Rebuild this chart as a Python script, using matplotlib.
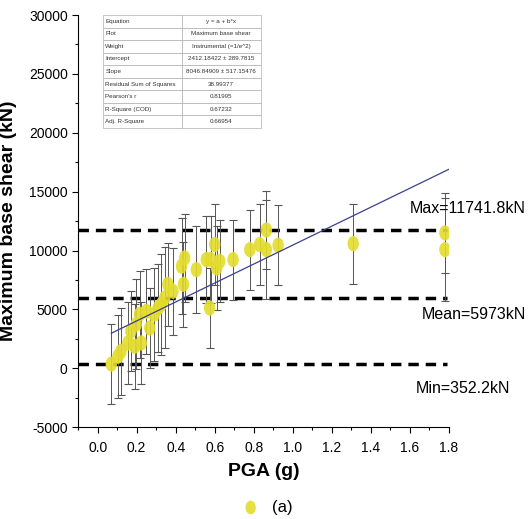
import matplotlib
matplotlib.use("Agg")
import matplotlib.pyplot as plt
from matplotlib.path import Path
from matplotlib.transforms import Affine2D
from matplotlib.ticker import MultipleLocator

plt.rcParams['font.family'] = ['Liberation Sans', 'DejaVu Sans']
plt.rcParams['axes.unicode_minus'] = False

# data
pga = [0.07, 0.104, 0.12, 0.155, 0.17, 0.19, 0.198, 0.215, 0.224, 0.25,
       0.267, 0.29, 0.31, 0.327, 0.344, 0.36, 0.386, 0.43, 0.44, 0.446,
       0.506, 0.557, 0.574, 0.58, 0.60, 0.61, 0.626, 0.694, 0.78, 0.83,
       0.865, 0.865, 0.925, 1.31, 1.78, 1.78]
shear = [352, 1020, 1440, 2150, 3140, 1870, 3740, 4590, 2150, 4840,
         3420, 4590, 5120, 5440, 5980, 7130, 6540, 8670, 7130, 9370,
         8380, 9230, 5120, 9230, 10510, 8520, 9090, 9230, 10080, 10510,
         11742, 10080, 10450, 10590, 11500, 10080]
shear_err = [3400, 3540, 3680, 3450, 3400, 3600, 3800, 3700, 3500, 3600,
             3400, 3950, 3700, 4300, 4300, 3500, 3700, 4100, 3600, 3700,
             3700, 3700, 3400, 3700, 3400, 3600, 3500, 3400, 3400, 3400,
             3300, 4200, 3400, 3400, 3400, 4400]

intercept = 2412.18422
slope = 8046.84909
fit_x = [0.07, 1.8]

ref_levels = [11741.8, 5973, 352.2]
ref_labels = ["Max=11741.8kN", "Mean=5973kN", "Min=352.2kN"]
ref_label_pos = [(1.60, 13600), (1.66, 4600), (1.63, -1700)]

table_rows = [
    ["Equation", "y = a + b*x"],
    ["Plot", "Maximum base shear"],
    ["Weight", "Instrumental (=1/e^2)"],
    ["Intercept", "2412.18422 \u00b1 289.7815"],
    ["Slope", "8046.84909 \u00b1 517.15476"],
    ["Residual Sum of Squares", "38.99377"],
    ["Pearson's r", "0.81995"],
    ["R-Square (COD)", "0.67232"],
    ["Adj. R-Square", "0.66954"],
]

fig = plt.figure(figsize=(5.28, 5.19), dpi=100)
ax = fig.add_axes([0.148, 0.177, 0.702, 0.794])

# tall ellipse marker
ellipse = Path.unit_circle().transformed(Affine2D().scale(0.75, 1.0))

ax.errorbar(pga, shear, yerr=shear_err, fmt='none', ecolor='#555555',
            elinewidth=0.7, capsize=3, capthick=0.8, zorder=2)
ax.scatter(pga, shear, marker=ellipse, s=120, color='#e3dc2c', alpha=0.9,
           edgecolors='none', zorder=3, label='(a)')

fit_y = [intercept + slope * x for x in fit_x]
ax.plot(fit_x, fit_y, color='#3b3f8f', lw=0.9, zorder=4)

for lvl, lab, pos in zip(ref_levels, ref_labels, ref_label_pos):
    ax.plot([-0.1, 1.79], [lvl, lvl], color='black', lw=2.5,
            dashes=(3, 2), zorder=1)
    ax.text(pos[0], pos[1], lab, fontsize=11.5, va='center', ha='left',
            clip_on=False)

ax.set_xlim(-0.1, 1.8)
ax.set_ylim(-5000, 30000)
ax.xaxis.set_minor_locator(MultipleLocator(0.1))
ax.yaxis.set_major_locator(MultipleLocator(5000))
ax.yaxis.set_minor_locator(MultipleLocator(2500))
ax.set_xticks([i * 0.2 for i in range(10)])
ax.set_xticklabels([f"{i * 0.2:.1f}" for i in range(10)])
ax.tick_params(axis='both', which='major', direction='out', length=4,
               width=0.8, labelsize=10)
ax.tick_params(axis='x', which='major', pad=6)
ax.tick_params(axis='both', which='minor', direction='out', length=2.5,
               width=0.8)
ax.spines['top'].set_visible(False)
ax.spines['right'].set_visible(False)

ax.set_xlabel("PGA (g)", fontsize=14, fontweight='bold', labelpad=6)
ax.set_ylabel("Maximum base shear (kN)", fontsize=14, fontweight='bold')
ax.yaxis.set_label_coords(-0.165, 0.5)

ax.legend(loc='upper center', bbox_to_anchor=(0.5, -0.14), frameon=False,
          fontsize=12, handletextpad=0.3, markerscale=0.9)

tbl = ax.table(cellText=table_rows, cellLoc='left',
               bbox=[0.067, 0.726, 0.425, 0.274], zorder=5)
tbl.auto_set_font_size(False)
tbl.set_fontsize(4.5)
for (r, c), cell in tbl.get_celld().items():
    cell.set_edgecolor('#b0b0b0')
    cell.set_linewidth(0.5)
    cell.set_facecolor('white')
    cell.get_text().set_color('#333333')
    if c == 1:
        cell.get_text().set_ha('center')
        cell._loc = 'center'
    cell.PAD = 0.03

fig.savefig("out.png", dpi=100)
